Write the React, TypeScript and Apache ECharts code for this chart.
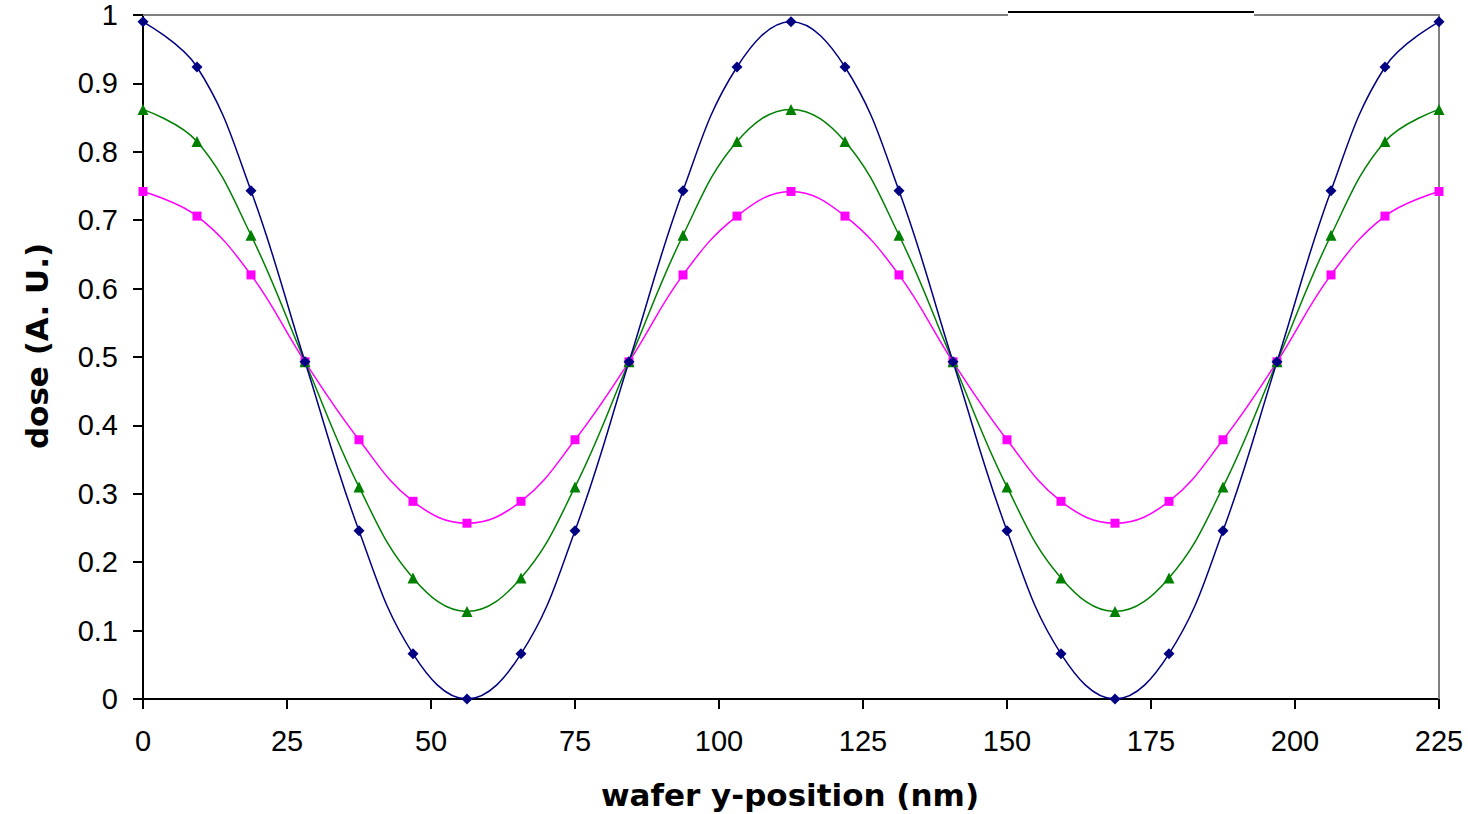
import React, { useEffect, useRef } from "react";
import * as echarts from "echarts";

const xPositions = [
  0, 9.375, 18.75, 28.125, 37.5, 46.875, 56.25, 65.625, 75, 84.375, 93.75, 103.125, 112.5,
  121.875, 131.25, 140.625, 150, 159.375, 168.75, 178.125, 187.5, 196.875, 206.25, 215.625, 225,
];
const blueDose = [
  0.99, 0.924, 0.743, 0.493, 0.246, 0.066, 0.0, 0.066, 0.246, 0.493, 0.743, 0.924, 0.99,
  0.924, 0.743, 0.493, 0.246, 0.066, 0.0, 0.066, 0.246, 0.493, 0.743, 0.924, 0.99,
];
const greenDose = [
  0.862, 0.815, 0.678, 0.493, 0.31, 0.177, 0.128, 0.177, 0.31, 0.493, 0.678, 0.815, 0.862,
  0.815, 0.678, 0.493, 0.31, 0.177, 0.128, 0.177, 0.31, 0.493, 0.678, 0.815, 0.862,
];
const pinkDose = [
  0.742, 0.706, 0.62, 0.493, 0.379, 0.289, 0.257, 0.289, 0.379, 0.493, 0.62, 0.706, 0.742,
  0.706, 0.62, 0.493, 0.379, 0.289, 0.257, 0.289, 0.379, 0.493, 0.62, 0.706, 0.742,
];
const xTitle = "wafer y-position (nm)";
const yTitle = "dose (A. U.)";

const pairs = (ys: number[]) => xPositions.map((x, i) => [x, ys[i]]);

export default function App() {
  const ref = useRef<HTMLDivElement>(null);
  useEffect(() => {
    if (!ref.current) return;
    const chart = echarts.init(ref.current, null, { renderer: "svg" });
    const gray = "#808080";
    const labelFont = {
      color: "#000",
      fontSize: 29,
      fontFamily: "Liberation Sans, Arial, sans-serif",
    };
    const titleFont = {
      fill: "#000",
      fontSize: 31,
      fontWeight: "bold",
      fontFamily: "DejaVu Sans, sans-serif",
    };
    chart.setOption({
      animation: false,
      backgroundColor: "#ffffff",
      grid: { left: 143, right: 29, top: 15, bottom: 115 },
      xAxis: {
        type: "value",
        min: 0,
        max: 225,
        interval: 25,
        axisLine: { show: true, onZero: false, lineStyle: { color: "#000", width: 2 } },
        axisTick: { show: true, inside: false, length: 10, lineStyle: { color: "#000", width: 2 } },
        axisLabel: { ...labelFont, margin: 27 },
        splitLine: { show: false },
      },
      yAxis: {
        type: "value",
        min: 0,
        max: 1,
        interval: 0.1,
        axisLine: { show: true, lineStyle: { color: "#000", width: 2 } },
        axisTick: { show: true, inside: false, length: 10, lineStyle: { color: "#000", width: 2 } },
        axisLabel: { ...labelFont, margin: 25 },
        splitLine: { show: false },
      },
      graphic: [
        { type: "line", shape: { x1: 143, y1: 15, x2: 1008, y2: 15 }, style: { stroke: gray, lineWidth: 2 }, z: 1 },
        { type: "line", shape: { x1: 1254, y1: 15, x2: 1440, y2: 15 }, style: { stroke: gray, lineWidth: 2 }, z: 1 },
        { type: "line", shape: { x1: 1008, y1: 12, x2: 1254, y2: 12 }, style: { stroke: "#000", lineWidth: 2 }, z: 1 },
        { type: "line", shape: { x1: 1439, y1: 15, x2: 1439, y2: 699 }, style: { stroke: gray, lineWidth: 2 }, z: 1 },
        {
          type: "text",
          x: 790,
          y: 795,
          style: { ...titleFont, text: xTitle, align: "center", verticalAlign: "middle" },
        },
        {
          type: "text",
          x: 37,
          y: 346,
          rotation: Math.PI / 2,
          style: { ...titleFont, text: yTitle, align: "center", verticalAlign: "middle" },
        },
      ],
      series: [
        {
          type: "line",
          name: "pink",
          data: pairs(pinkDose),
          smooth: 0.4,
          symbol: "rect",
          symbolSize: 9,
          itemStyle: { color: "#FF00FF" },
          lineStyle: { color: "#FF00FF", width: 1.5 },
        },
        {
          type: "line",
          name: "green",
          data: pairs(greenDose),
          smooth: 0.4,
          symbol: "triangle",
          symbolSize: 11,
          itemStyle: { color: "#008000" },
          lineStyle: { color: "#008000", width: 1.5 },
        },
        {
          type: "line",
          name: "blue",
          data: pairs(blueDose),
          smooth: 0.4,
          symbol: "diamond",
          symbolSize: 11,
          itemStyle: { color: "#000080" },
          lineStyle: { color: "#000080", width: 1.5 },
        },
      ],
    });
    return () => chart.dispose();
  }, []);
  return (
    <div
      ref={ref}
      style={{ position: "fixed", left: 0, top: 0, width: 1468, height: 814, background: "#fff" }}
    />
  );
}
